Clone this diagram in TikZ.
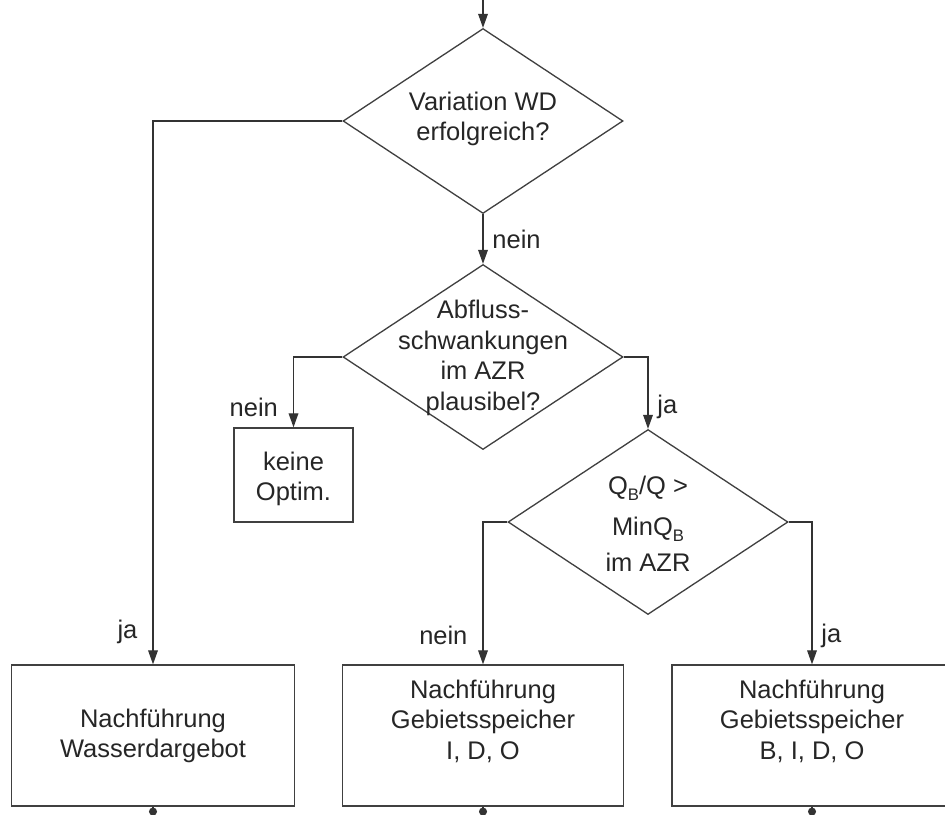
\documentclass[tikz,border=0pt]{standalone}
\usepackage{fontspec}
\setmainfont{Liberation Sans}
\usetikzlibrary{shapes.geometric,arrows.meta}
\newcommand{\subB}{\raisebox{-0.45ex}{\fontsize{9.5}{9.5}\selectfont B}}
\begin{document}
\begin{tikzpicture}[x=0.02cm,y=-0.02cm,line width=0.75pt,
        every node/.style={font=\fontsize{14.5}{17.4}\selectfont,text=black!85},
        dec/.style={diamond,draw=black!75,minimum width=5.6cm,minimum height=3.7cm,inner sep=0pt},
        box/.style={rectangle,draw=black!75,minimum width=5.6cm,minimum height=2.82cm,inner sep=0pt},
        txt/.style={align=center,inner sep=0pt},
        flow/.style={draw=black!80,-{Triangle[length=8pt,width=5.5pt]}},
        lbl/.style={inner sep=5pt},
        lbll/.style={lbl,left,xshift=-3.5pt}]
    \useasboundingbox (0,0) rectangle (945,814);
    \clip (0,0) rectangle (945,814);
    % decisions
    \node[dec] (d1) at (483,121) {};
    \node[dec] (d2) at (483,357) {};
    \node[dec] (d3) at (648,522) {};
    \node[txt] (t1) at (483,119) {Variation WD\\erfolgreich?};
    \node[txt] (t2) at (483,358) {Abfluss-\\schwankungen\\im AZR\\plausibel?};
    \node[txt] (t3) at (648,524) {Q\subB/Q >\\[6pt]MinQ\subB\\[3pt]im AZR};
    % boxes
    \node[box,minimum width=2.38cm,minimum height=1.88cm] (k) at (293.5,475) {};
    \node[txt] (tk) at (293.5,479) {keine\\Optim.};
    \node[box,minimum width=5.66cm] (b1) at (153,735.5) {};
    \node[box,minimum width=5.62cm] (b2) at (483,735.5) {};
    \node[box] (b3) at (812,735.5) {};
    \node[txt] (tb1) at (153,736) {Nachführung\\Wasserdargebot};
    \node[txt] (tb2) at (483,721) {Nachführung\\Gebietsspeicher\\I, D, O};
    \node[txt] (tb3) at (812,721) {Nachführung\\Gebietsspeicher\\B, I, D, O};
    % connectors
    \coordinate (in) at (483,-5);
    \draw[flow] (in) -- (d1.north);
    \draw[flow] (d1.south) -- node[lbl,right,pos=0.5] {nein} (d2.north);
    \draw[flow] (d1.west) -| node[lbll,pos=0.97] {ja} (b1.north);
    \draw[flow] (d2.west) -| node[lbll,pos=0.86] {nein} (k.north);
    \draw[flow] (d2.east) -| node[lbl,right,pos=0.85] {ja} (d3.north);
    \draw[flow] (d3.west) -| node[lbll,pos=0.9] {nein} (b2.north);
    \draw[flow] (d3.east) -| node[lbl,right,pos=0.9] {ja} (b3.north);
    % outgoing stubs
    \foreach \b in {b1,b2,b3}{
        \draw[black!80,line width=1.5pt] (\b.south) -- ++(0,10);
        \fill[black!80] ([yshift=-2.8pt]\b.south) circle (2.3pt);
    }
\end{tikzpicture}
\end{document}
